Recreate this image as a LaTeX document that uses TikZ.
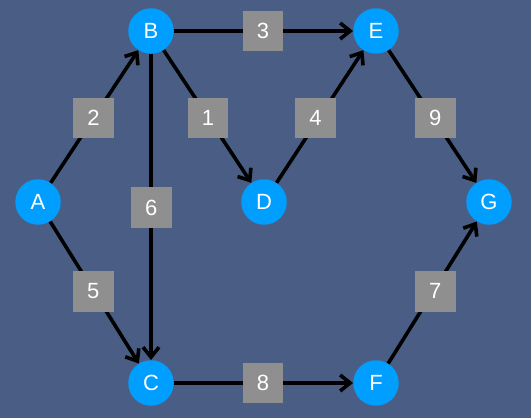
\documentclass[tikz,border=0pt]{standalone}
\usepackage{fontspec}
\setmainfont{Liberation Sans}
\usetikzlibrary{arrows.meta}
\definecolor{bg}{RGB}{74,94,133}
\definecolor{nodeblue}{RGB}{0,158,255}
\definecolor{wbox}{RGB}{143,143,143}
\begin{document}
\begin{tikzpicture}[x=1pt,y=-1pt,
  vert/.style={circle,fill=nodeblue,minimum size=45.5pt,inner sep=0pt,
    text=white,font=\fontsize{22}{22}\selectfont},
  weight/.style={fill=wbox,minimum size=40.5pt,inner sep=0pt,
    text=white,font=\fontsize{22}{22}\selectfont},
  edge/.style={line width=3.6pt,black,-{Straight Barb[length=10pt,width=16pt,line width=3.6pt]}}]
\fill[bg] (0,0) rectangle (531,418);
\useasboundingbox (0,0) rectangle (531,418);
% vertices
\node[vert] (A) at (38,202) {A};
\node[vert] (B) at (151,31) {B};
\node[vert] (C) at (151,383) {C};
\node[vert] (D) at (264,202) {D};
\node[vert] (E) at (376,31) {E};
\node[vert] (F) at (376,383) {F};
\node[vert] (G) at (489,202) {G};
% directed edges
\draw[edge] (A) -- (B);
\draw[edge] (A) -- (C);
\draw[edge] (B) -- (E);
\draw[edge] (B) -- (D);
\draw[edge] (B) -- (C);
\draw[edge] (D) -- (E);
\draw[edge] (E) -- (G);
\draw[edge] (C) -- (F);
\draw[edge] (F) -- (G);
% edge weights
\node[weight] (wAB) at (93.5,118) {2};
\node[weight] (wBD) at (208,118) {1};
\node[weight] (wBE) at (263,31) {3};
\node[weight] (wDE) at (315.5,118) {4};
\node[weight] (wEG) at (435.3,118) {9};
\node[weight] (wBC) at (151.3,207.5) {6};
\node[weight] (wAC) at (93.3,291.3) {5};
\node[weight] (wFG) at (435.3,291.3) {7};
\node[weight] (wCF) at (263,383) {8};
\end{tikzpicture}
\end{document}
